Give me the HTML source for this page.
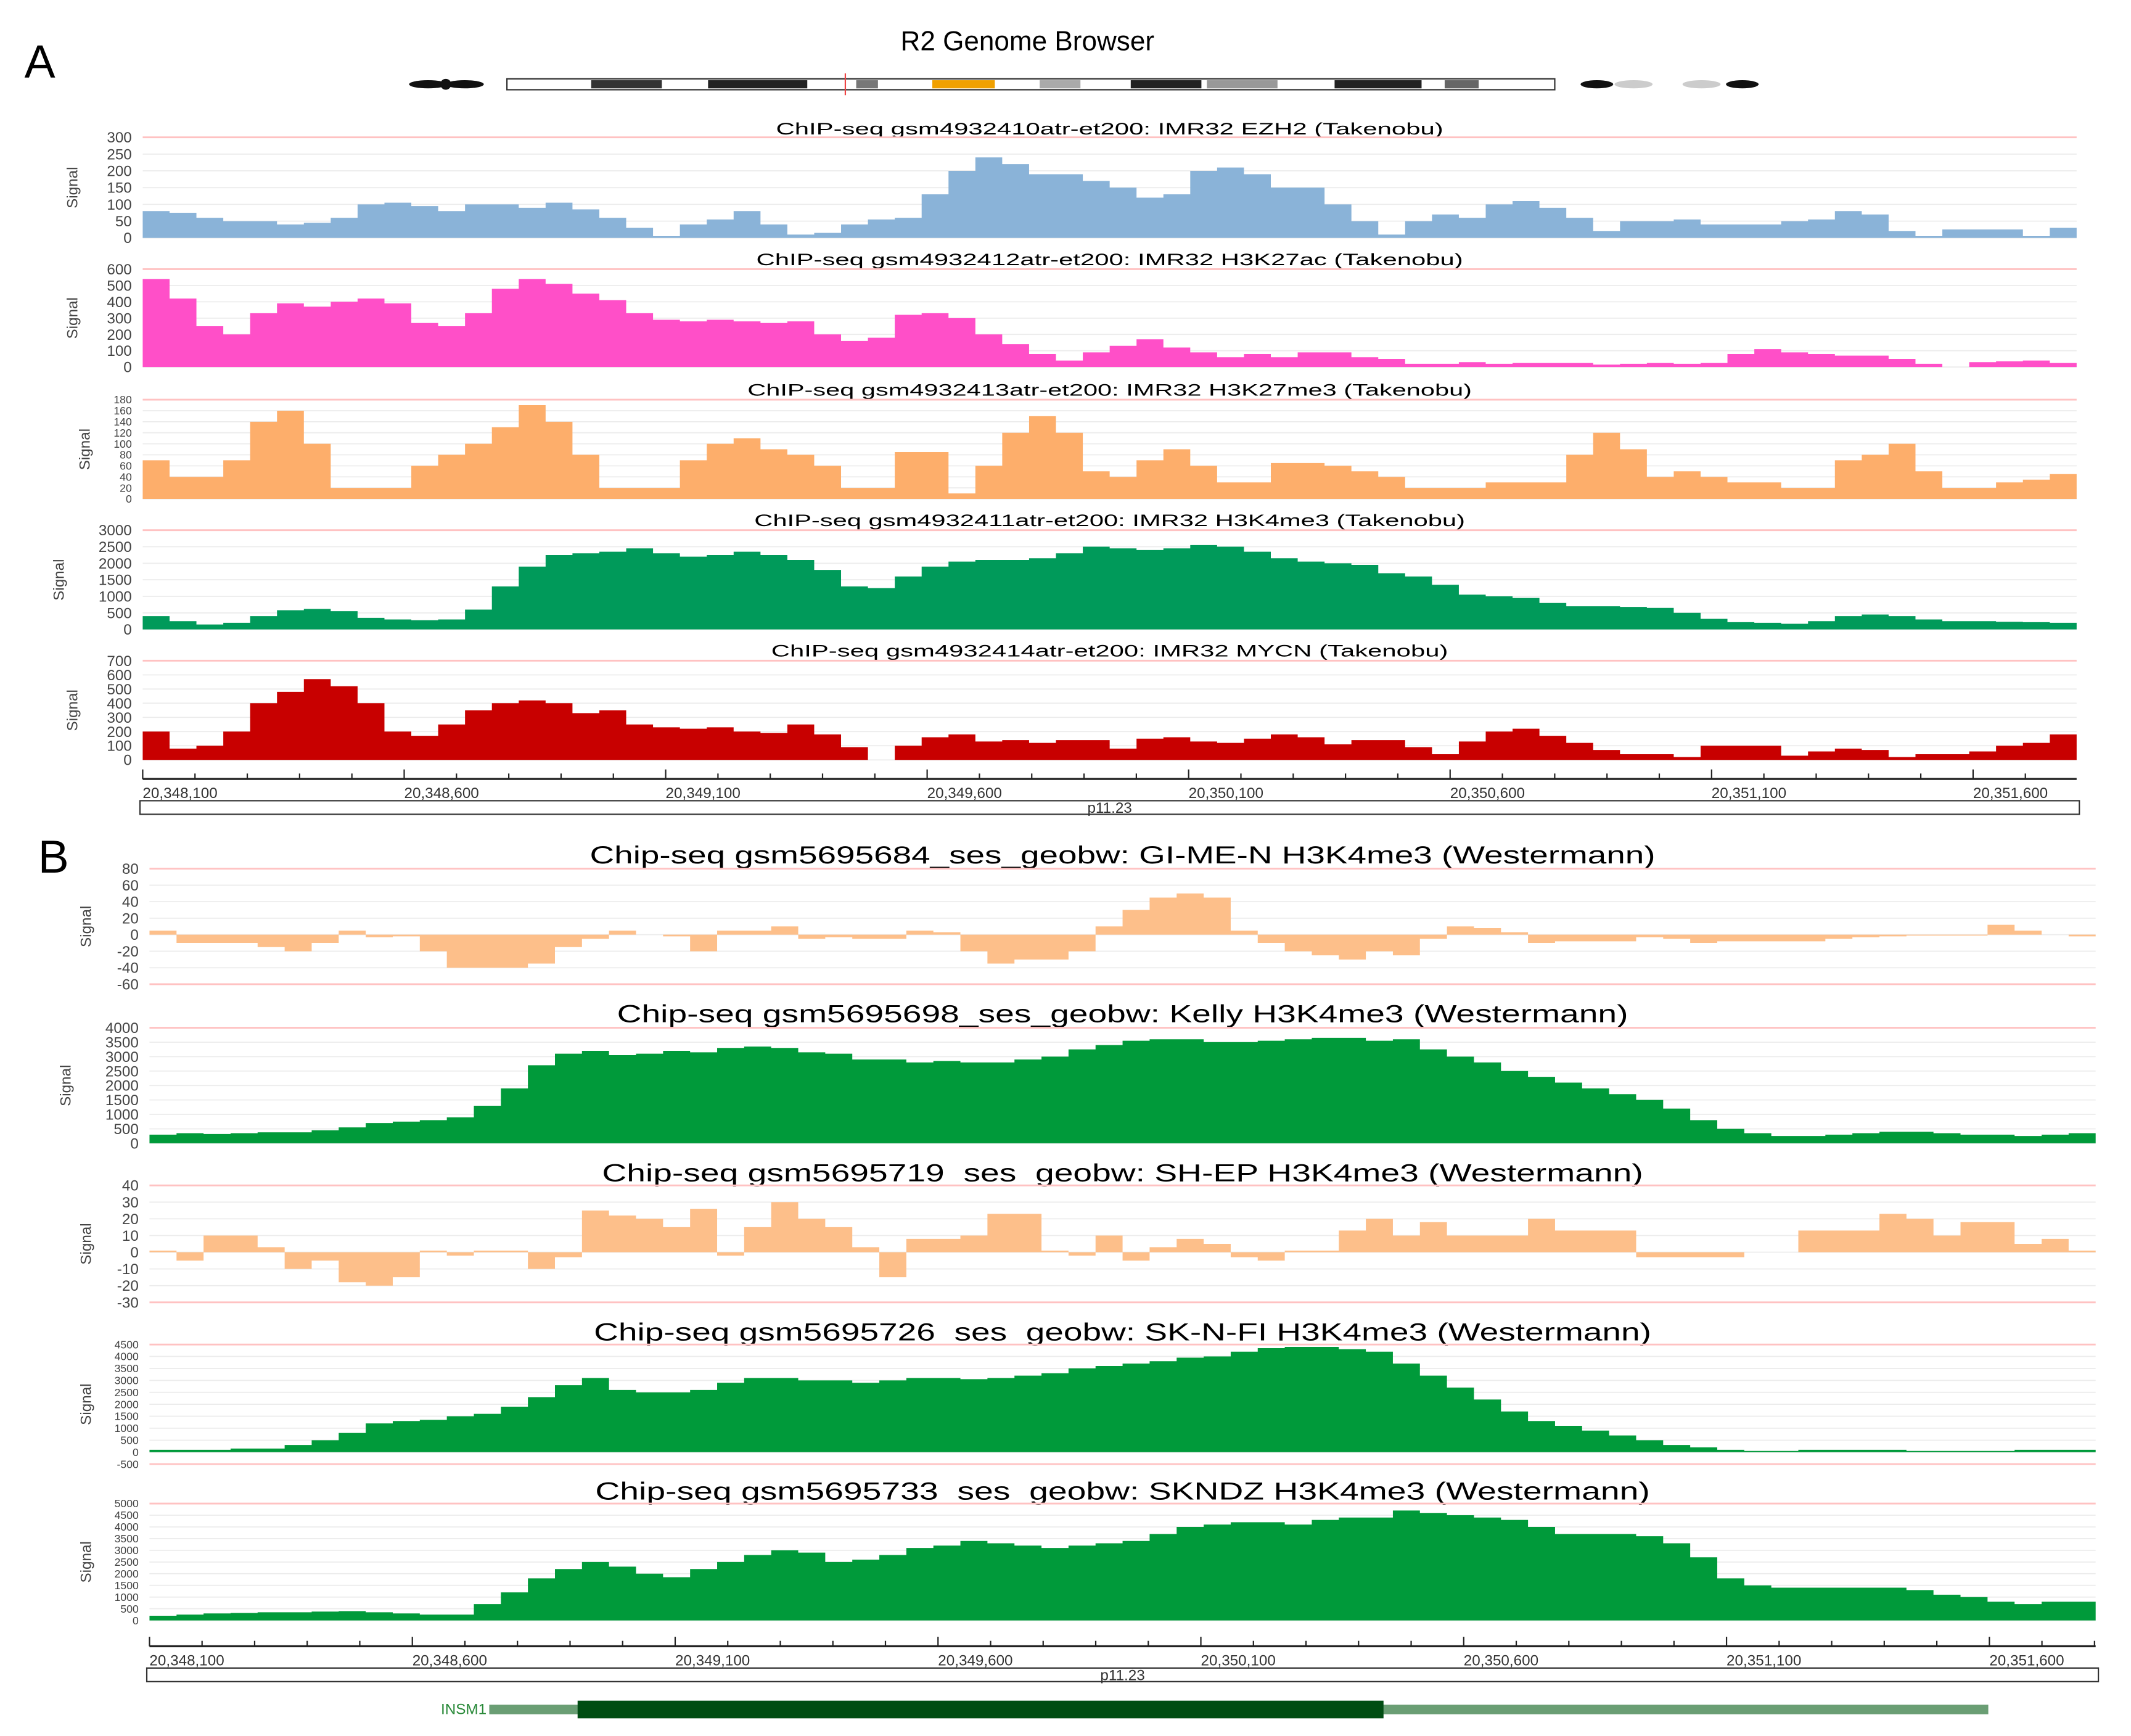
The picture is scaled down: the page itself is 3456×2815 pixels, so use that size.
<!DOCTYPE html>
<html><head><meta charset="utf-8"><style>
html,body{margin:0;padding:0;background:#fff;}
svg{display:block;font-family:"Liberation Sans",Arial,sans-serif;}
</style></head><body>
<svg id="chart" xmlns="http://www.w3.org/2000/svg" width="3456" height="2815" viewBox="0 0 1568 1277" preserveAspectRatio="none">
<text x="18" y="57" font-size="34">A</text>
<text x="28" y="642" font-size="34">B</text>
<text x="756" y="37" font-size="20" text-anchor="middle">R2 Genome Browser</text>
<g id="ideogram">
  <ellipse cx="315" cy="62" rx="14" ry="3" fill="#111"/><ellipse cx="342" cy="62" rx="14" ry="3" fill="#111"/><circle cx="328" cy="62" r="4" fill="#111"/>
  <rect x="373" y="58" width="771" height="8" fill="#fff" stroke="#333" stroke-width="1"/>
  <rect x="435" y="59" width="52" height="6" fill="#333"/>
  <rect x="521" y="59" width="73" height="6" fill="#222"/>
  <rect x="630" y="59" width="16" height="6" fill="#777"/>
  <rect x="686" y="59" width="46" height="6" fill="#f0a000"/>
  <rect x="765" y="59" width="30" height="6" fill="#aaa"/>
  <rect x="832" y="59" width="52" height="6" fill="#222"/>
  <rect x="888" y="59" width="52" height="6" fill="#999"/>
  <rect x="982" y="59" width="64" height="6" fill="#222"/>
  <rect x="1063" y="59" width="25" height="6" fill="#666"/>
  <line x1="622" y1="54" x2="622" y2="70" stroke="#e44" stroke-width="1"/>
  <ellipse cx="1175" cy="62" rx="12" ry="3" fill="#111"/><ellipse cx="1202" cy="62" rx="14" ry="3" fill="#ccc"/>
  <ellipse cx="1252" cy="62" rx="14" ry="3" fill="#ccc"/><ellipse cx="1282" cy="62" rx="12" ry="3" fill="#111"/>
</g>
<g id="tracks"></g>
<g id="gene">
  <text x="358" y="1261" font-size="11" fill="#2a8a3a" text-anchor="end">INSM1</text>
  <rect x="360" y="1254" width="1103" height="7" fill="#6a9e74"/>
  <rect x="425" y="1251" width="593" height="13" fill="#004d12"/>
</g>
</svg>
<script>
// ---- data arrays ----
const ezh2 = [80,75,60,50,50,40,45,60,100,105,95,80,100,100,90,105,85,60,30,5,40,55,80,40,10,15,40,55,60,130,200,240,220,190,190,170,150,120,130,200,210,190,150,150,100,50,10,50,70,60,100,110,90,60,20,50,50,55,40,40,40,50,55,80,70,20,5,25,25,25,5,30];
const h3k27ac = [540,420,250,200,330,390,370,400,420,390,270,250,330,480,540,510,450,410,330,290,280,290,280,270,280,200,160,180,320,330,300,200,140,80,40,90,130,170,120,90,60,80,60,90,90,60,50,20,20,30,20,25,25,25,15,20,25,20,25,80,110,90,80,70,70,50,20,0,30,35,40,25];
const h3k27me3 = [70,40,40,70,140,160,100,20,20,20,60,80,100,130,170,140,80,20,20,20,70,100,110,90,80,60,20,20,85,85,10,60,120,150,120,50,40,70,90,60,30,30,65,65,60,50,40,20,20,20,30,30,30,80,120,90,40,50,40,30,30,20,20,70,80,100,50,20,20,30,35,45];
const h3k4me3A = [400,250,150,200,400,580,620,550,350,300,280,300,600,1300,1900,2250,2300,2350,2450,2300,2200,2250,2350,2250,2100,1800,1300,1250,1600,1900,2050,2100,2100,2150,2300,2500,2450,2400,2450,2550,2500,2350,2150,2050,2000,1950,1700,1600,1350,1050,1000,950,800,700,700,680,650,500,320,220,200,170,250,400,450,400,300,250,250,230,220,200];
const mycn = [200,80,100,200,400,480,570,520,400,200,170,250,350,400,420,400,330,350,250,230,220,230,200,190,250,180,90,0,100,160,180,130,140,120,140,140,80,150,160,130,120,150,180,160,110,140,140,90,40,130,200,220,170,120,70,40,40,20,100,100,100,30,60,80,70,20,40,40,60,100,120,180];
const gimen = [5,-10,-10,-10,-15,-20,-10,5,-3,-2,-20,-40,-40,-40,-35,-15,-5,5,0,-2,-20,5,5,10,-5,-3,-5,-5,5,3,-20,-35,-30,-30,-20,10,30,45,50,45,5,-10,-20,-25,-30,-20,-25,-5,10,8,3,-10,-8,-8,-8,-3,-5,-10,-8,-8,-8,-8,-5,-3,-2,-1,-1,-1,12,5,0,-2];
const kelly = [300,350,320,350,380,380,450,550,700,750,800,900,1300,1900,2700,3100,3200,3050,3100,3200,3150,3300,3350,3300,3150,3100,2900,2900,2800,2850,2800,2800,2900,3000,3250,3400,3550,3600,3600,3500,3500,3550,3600,3650,3650,3550,3600,3250,3000,2800,2500,2300,2100,1900,1700,1500,1200,800,500,350,250,250,300,350,400,400,350,300,300,250,300,350];
const shep = [1,-5,10,10,3,-10,-5,-18,-20,-15,1,-2,1,1,-10,-3,25,22,20,15,26,-2,15,30,20,15,3,-15,8,8,10,23,23,1,-2,10,-5,3,8,5,-3,-5,1,1,13,20,10,18,10,10,10,20,13,13,13,-3,-3,-3,-3,0,0,13,13,13,23,20,10,18,18,5,8,1];
const sknfi = [100,100,100,150,150,300,500,800,1200,1300,1350,1500,1600,1900,2300,2800,3100,2600,2500,2500,2600,2900,3100,3100,3000,3000,2900,3000,3100,3100,3050,3100,3200,3300,3500,3600,3700,3800,3950,4000,4200,4350,4400,4400,4300,4200,3700,3200,2700,2200,1700,1300,1100,900,700,500,300,200,100,50,50,100,100,100,100,50,50,50,50,100,100,100];
const skndz = [200,250,300,320,350,350,380,400,350,300,250,250,700,1200,1800,2200,2500,2300,2000,1850,2200,2500,2800,3000,2900,2500,2600,2800,3100,3200,3400,3300,3200,3100,3200,3300,3400,3700,4000,4100,4200,4200,4100,4300,4400,4400,4700,4600,4500,4400,4300,4000,3700,3700,3700,3600,3300,2700,1800,1500,1400,1400,1400,1400,1400,1300,1100,1000,800,700,800,800];
const xTickLabels = ["20,348,100","20,348,600","20,349,100","20,349,600","20,350,100","20,350,600","20,351,100","20,351,600"];

const NS = "http://www.w3.org/2000/svg";
const root = document.getElementById('tracks');
function mk(tag, attrs, parent){const e=document.createElementNS(NS,tag);for(const k in attrs)e.setAttribute(k,attrs[k]);(parent||root).appendChild(e);return e;}

function drawTrack(t){
  const g = mk('g',{});
  
  
  const y = v => t.yTop + (t.vmax - v) * (t.yBot - t.yTop) / (t.vmax - t.vmin);
  const title = mk('text',{x:(t.x0+t.x1)/2, y:t.titleY, 'font-size':t.tfs, 'text-anchor':'middle', textLength:t.tlen, lengthAdjust:'spacingAndGlyphs'}, g);
  title.textContent = t.title;
  
  
  for (let v = t.vmin; v <= t.vmax + 1e-9; v += t.step) {
    const pink = (v === t.vmax) || (t.pinkMin && v === t.vmin);
    mk('line',{x1:t.x0,x2:t.x1,y1:y(v),y2:y(v),stroke:pink?'#ffc2c2':'#ececec','stroke-width':pink?1.3:0.8}, g);
    const lb = mk('text',{x:t.x0-8,y:y(v)+t.lfs*0.35,'font-size':t.lfs,'text-anchor':'end',fill:'#444'}, g);
    lb.textContent = v;
    
    
  }
  const yl = mk('text',{x:0,y:0,'font-size':11,'text-anchor':'middle',fill:'#444',transform:`translate(${t.ylx},${(t.yTop+t.yBot)/2}) rotate(-90)`}, g);
  yl.textContent = 'Signal';
  
  
  const n = t.data.length, w = (t.x1 - t.x0) / n, y0 = y(0);
  let d = `M${t.x0},${y0}`;
  t.data.forEach((v,i)=>{ d += ` L${t.x0+i*w},${y(v)} L${t.x0+(i+1)*w},${y(v)}`; });
  d += ` L${t.x1},${y0} Z`;
  const p = mk('path',{d:d, fill:t.color, stroke:'none'}, g);
  
  
}

const A = {x0:105, x1:1528, tfs:12, lfs:11, ylx:57};
drawTrack({...A, name:'track-ezh2', title:'ChIP-seq gsm4932410atr-et200: IMR32 EZH2  (Takenobu)', tlen:491, titleY:99, yTop:101, yBot:175, vmin:0, vmax:300, step:50, data:ezh2, color:'#8ab3d8'});
drawTrack({...A, name:'track-h3k27ac', title:'ChIP-seq gsm4932412atr-et200: IMR32 H3K27ac  (Takenobu)', tlen:520, titleY:195, yTop:198, yBot:270, vmin:0, vmax:600, step:100, data:h3k27ac, color:'#ff4fc8'});
drawTrack({...A, name:'track-h3k27me3', title:'ChIP-seq gsm4932413atr-et200: IMR32 H3K27me3  (Takenobu)', tlen:533, titleY:291, yTop:294, yBot:367, vmin:0, vmax:180, step:20, data:h3k27me3, color:'#fdae6b', lfs:8, ylx:66});
drawTrack({...A, name:'track-h3k4me3-imr32', title:'ChIP-seq gsm4932411atr-et200: IMR32 H3K4me3  (Takenobu)', tlen:523, titleY:387, yTop:390, yBot:463, vmin:0, vmax:3000, step:500, data:h3k4me3A, color:'#009a5a', ylx:47});
drawTrack({...A, name:'track-mycn', title:'ChIP-seq gsm4932414atr-et200: IMR32 MYCN  (Takenobu)', tlen:498, titleY:483, yTop:486, yBot:559, vmin:0, vmax:700, step:100, data:mycn, color:'#c80000'});

const B = {x0:110, x1:1542, tfs:18, lfs:11, ylx:67};
drawTrack({...B, name:'track-gimen', title:'Chip-seq gsm5695684_ses_geobw: GI-ME-N H3K4me3  (Westermann)', tlen:784, titleY:635, yTop:639, yBot:724, vmin:-60, vmax:80, step:20, pinkMin:true, data:gimen, color:'#fdbf8a'});
drawTrack({...B, name:'track-kelly', title:'Chip-seq gsm5695698_ses_geobw: Kelly H3K4me3  (Westermann)', tlen:744, titleY:752, yTop:756, yBot:841, vmin:0, vmax:4000, step:500, data:kelly, color:'#009a3a', ylx:52});
drawTrack({...B, name:'track-shep', title:'Chip-seq gsm5695719_ses_geobw: SH-EP H3K4me3  (Westermann)', tlen:766, titleY:869, yTop:872, yBot:958, vmin:-30, vmax:40, step:10, pinkMin:true, data:shep, color:'#fdbf8a'});
drawTrack({...B, name:'track-sknfi', title:'Chip-seq gsm5695726_ses_geobw: SK-N-FI H3K4me3  (Westermann)', tlen:778, titleY:986, yTop:989, yBot:1077, vmin:-500, vmax:4500, step:500, pinkMin:true, data:sknfi, color:'#009a3a', lfs:8});
drawTrack({...B, name:'track-skndz', title:'Chip-seq gsm5695733_ses_geobw: SKNDZ H3K4me3  (Westermann)', tlen:776, titleY:1103, yTop:1106, yBot:1192, vmin:0, vmax:5000, step:500, data:skndz, color:'#009a3a', lfs:8});

function drawAxis(ax){
  const g = mk('g',{});
  
  
  mk('line',{x1:ax.x0,x2:ax.x1,y1:ax.y,y2:ax.y,stroke:'#222','stroke-width':1.5}, g);
  const per = ax.major / 5;
  for (let i = 0; ax.x0 + i*per <= ax.x1 + 0.5; i++) {
    const x = ax.x0 + i*per, maj = i % 5 === 0;
    mk('line',{x1:x,x2:x,y1:ax.y,y2:ax.y-(maj?7:4),stroke:'#222','stroke-width':1}, g);
  }
  xTickLabels.forEach((s,i)=>{
    const t = mk('text',{x:ax.x0 + i*ax.major, y:ax.y+14, 'font-size':11, fill:'#333'}, g);
    t.textContent = s;
    
    
  });
  mk('rect',{x:ax.x0-2,y:ax.y+16,width:ax.x1-ax.x0+4,height:10,fill:'#fff',stroke:'#333','stroke-width':1}, g);
  const b = mk('text',{x:(ax.x0+ax.x1)/2,y:ax.y+25,'font-size':11,'text-anchor':'middle',fill:'#333'}, g);
  b.textContent = 'p11.23';
  
  
}
drawAxis({name:'x-axis-a', x0:105, x1:1528, y:573, major:192.4});
drawAxis({name:'x-axis-b', x0:110, x1:1542, y:1211, major:193.4});
</script>
</body></html>
